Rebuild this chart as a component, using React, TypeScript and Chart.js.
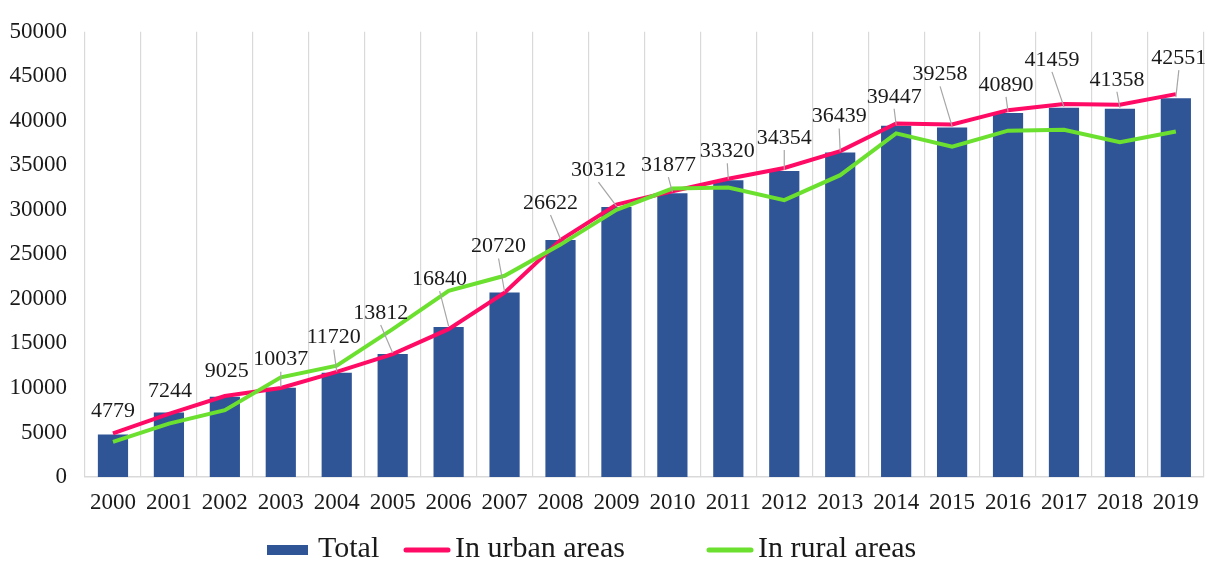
import React, { useEffect, useRef } from "react";
import { Chart, registerables } from "chart.js";

Chart.register(...registerables);

const years = ["2000","2001","2002","2003","2004","2005","2006","2007","2008","2009","2010","2011","2012","2013","2014","2015","2016","2017","2018","2019"];
const totalValues = [4779, 7244, 9025, 10037, 11720, 13812, 16840, 20720, 26622, 30312, 31877, 33320, 34354, 36439, 39447, 39258, 40890, 41459, 41358, 42551];
const urbanValues = [4900, 7100, 9100, 10000, 11800, 13800, 16600, 20700, 26600, 30600, 32100, 33500, 34700, 36600, 39700, 39600, 41200, 41900, 41800, 43000];
const ruralValues = [3950, 6000, 7500, 11200, 12500, 16600, 20900, 22600, 26100, 30000, 32400, 32500, 31100, 33900, 38600, 37100, 38900, 39000, 37600, 38800];
const yTicks = [0, 5000, 10000, 15000, 20000, 25000, 30000, 35000, 40000, 45000, 50000];

// label placement (pixel offsets relative to bar top centre) – styling only
const labelDx = [0, 1, 2, 0, -3, -12, -9, -6, -10, -18, -4, -1, 0, -1, -2, -12, -2, -12, -3, 3];
const labelDy = [-23, -21, -25, -28, -35, -41, -48, -46, -37, -37, -28, -29, -33, -36, -29, -53, -28, -48, -29, -40];

const BLUE = "#2F5597";
const RED = "#FF0A64";
const GREEN = "#6BE02E";
const FONT = "'Liberation Serif', 'Times New Roman', serif";

const labelPlugin = {
  id: "barLabels",
  afterDatasetsDraw(chart: any) {
    const ctx = chart.ctx;
    const meta = chart.getDatasetMeta(0);
    ctx.save();
    ctx.font = `22px ${FONT}`;
    ctx.textAlign = "center";
    ctx.textBaseline = "middle";
    meta.data.forEach((bar: any, i: number) => {
      const lx = bar.x + labelDx[i];
      const ly = bar.y + labelDy[i];
      if (labelDy[i] <= -27) {
        ctx.strokeStyle = "#A6A6A6";
        ctx.lineWidth = 1.2;
        ctx.beginPath();
        ctx.moveTo(lx, ly + 12);
        ctx.lineTo(bar.x, bar.y - 1);
        ctx.stroke();
      }
      ctx.fillStyle = "#1a1a1a";
      ctx.fillText(String(totalValues[i]), lx, ly);
    });
    ctx.restore();
  },
};

const legendPlugin = {
  id: "customLegend",
  afterDraw(chart: any) {
    const ctx = chart.ctx;
    const y = 550;
    ctx.save();
    ctx.font = `30px ${FONT}`;
    ctx.textBaseline = "middle";
    ctx.fillStyle = "#1a1a1a";
    const items = [
      { x: 267, label: chart.data.datasets[0].label, type: "box", color: BLUE },
      { x: 404, label: chart.data.datasets[1].label, type: "line", color: RED },
      { x: 707, label: chart.data.datasets[2].label, type: "line", color: GREEN },
    ];
    items.forEach((it) => {
      if (it.type === "box") {
        ctx.fillStyle = it.color;
        ctx.fillRect(it.x, y - 5, 41, 10);
      } else {
        ctx.strokeStyle = it.color;
        ctx.lineWidth = 5;
        ctx.lineCap = "round";
        ctx.beginPath();
        ctx.moveTo(it.x + 2, y);
        ctx.lineTo(it.x + 44, y);
        ctx.stroke();
      }
      ctx.fillStyle = "#1a1a1a";
      ctx.fillText(it.label, it.x + 51, y - 1);
    });
    ctx.restore();
  },
};

export default function App() {
  const ref = useRef<HTMLCanvasElement | null>(null);
  useEffect(() => {
    if (!ref.current) return;
    const chart = new Chart(ref.current, {
      type: "bar",
      data: {
        labels: years,
        datasets: [
          {
            type: "bar",
            label: "Total",
            data: totalValues,
            backgroundColor: BLUE,
            barPercentage: 0.54,
            categoryPercentage: 1,
            order: 3,
          },
          {
            type: "line",
            label: "In urban areas",
            data: urbanValues,
            borderColor: RED,
            backgroundColor: RED,
            borderWidth: 4,
            pointRadius: 0,
            tension: 0,
            order: 2,
          },
          {
            type: "line",
            label: "In rural areas",
            data: ruralValues,
            borderColor: GREEN,
            backgroundColor: GREEN,
            borderWidth: 4,
            pointRadius: 0,
            tension: 0,
            order: 1,
          },
        ] as any,
      },
      options: {
        animation: false,
        responsive: false,
        maintainAspectRatio: false,
        layout: { padding: { top: 30, right: 6, left: 0, bottom: 0 } },
        plugins: {
          legend: { display: false },
          tooltip: { enabled: false },
        },
        scales: {
          x: {
            grid: { display: true, color: "#D9D9D9", lineWidth: 1.2, offset: true, drawTicks: false },
            border: { display: true, color: "#D9D9D9", width: 1.5 },
            ticks: { color: "#1a1a1a", font: { family: FONT, size: 23 }, padding: 12, maxRotation: 0, autoSkip: false },
            afterFit(scale: any) { scale.height = 86; },
          },
          y: {
            min: 0,
            max: 50000,
            afterBuildTicks(scale: any) { scale.ticks = yTicks.map((v) => ({ value: v })); },
            grid: { display: false, drawTicks: false },
            border: { display: false },
            ticks: {
              color: "#1a1a1a",
              font: { family: FONT, size: 23 },
              padding: 18,
              callback: (v: any) => String(v),
            },
            afterFit(scale: any) { scale.width = 85; },
          },
        },
      } as any,
      plugins: [labelPlugin, legendPlugin],
    });
    return () => chart.destroy();
  }, []);
  return (
    <div style={{ position: "fixed", left: 0, top: 0, width: 1211, height: 563, background: "#fff" }}>
      <canvas ref={ref} width={1211} height={563} style={{ width: 1211, height: 563, display: "block" }} />
    </div>
  );
}
